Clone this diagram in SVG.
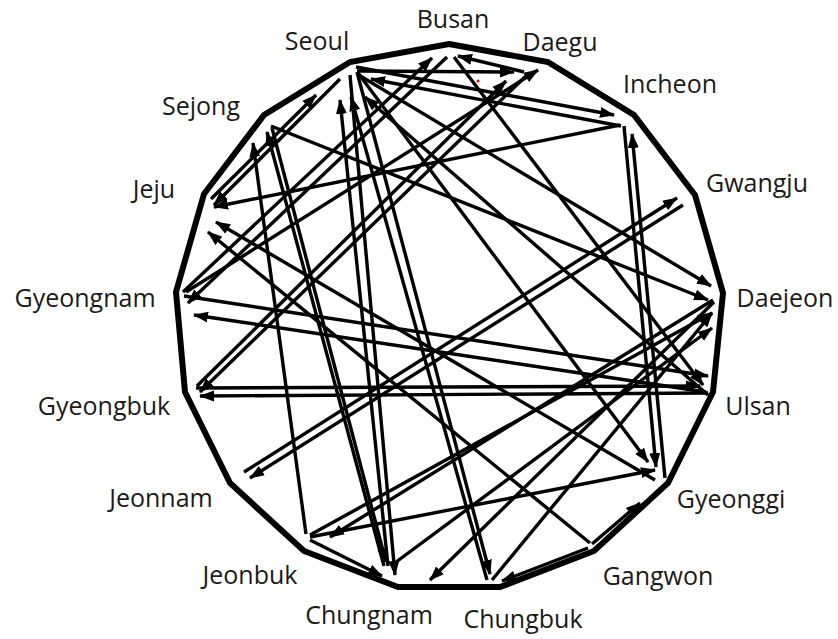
<svg xmlns="http://www.w3.org/2000/svg" width="838" height="639" viewBox="0 0 838 639">
<defs>
<marker id="ah" markerUnits="userSpaceOnUse" markerWidth="16" markerHeight="12" refX="14" refY="6" orient="auto">
<path d="M0,0.5 L15,6 L0,11.5 z" fill="#000"/>
</marker>
<style>
.lbl{font-family:"Open Sans","Noto Sans","Liberation Sans",sans-serif;font-size:25px;fill:#1a1a1a}
.e{stroke:#000;stroke-width:3.4;fill:none;marker-end:url(#ah)}
.frame{stroke:#000;stroke-width:6;fill:none;stroke-linejoin:miter}
</style>
</defs>
<rect width="838" height="639" fill="#fff"/>
<polygon class="frame" points="449,44 548,62 634,115 695,195 723,293 713,392 668,483 594,551 500,587 398,587 304,551 230,483 185,392 176,292 204,194 264,115 350,62"/>
<g id="labels">
<text class="lbl" x="453" y="28" text-anchor="middle">Busan</text>
<text class="lbl" x="560" y="51" text-anchor="middle">Daegu</text>
<text class="lbl" x="670" y="93" text-anchor="middle">Incheon</text>
<text class="lbl" x="757" y="192" text-anchor="middle">Gwangju</text>
<text class="lbl" x="785" y="307" text-anchor="middle">Daejeon</text>
<text class="lbl" x="758" y="415" text-anchor="middle">Ulsan</text>
<text class="lbl" x="731" y="508" text-anchor="middle">Gyeonggi</text>
<text class="lbl" x="658" y="585" text-anchor="middle">Gangwon</text>
<text class="lbl" x="523" y="628" text-anchor="middle">Chungbuk</text>
<text class="lbl" x="369" y="624" text-anchor="middle">Chungnam</text>
<text class="lbl" x="250" y="584" text-anchor="middle">Jeonbuk</text>
<text class="lbl" x="161" y="507" text-anchor="middle">Jeonnam</text>
<text class="lbl" x="104" y="415" text-anchor="middle">Gyeongbuk</text>
<text class="lbl" x="85" y="307" text-anchor="middle">Gyeongnam</text>
<text class="lbl" x="154" y="198" text-anchor="middle">Jeju</text>
<text class="lbl" x="201" y="115" text-anchor="middle">Sejong</text>
<text class="lbl" x="317" y="50" text-anchor="middle">Seoul</text>
</g>
<g id="edges">
<line class="e" x1="357" y1="71" x2="514" y2="72"/>
<line class="e" x1="356" y1="67" x2="614" y2="115"/>
<line class="e" x1="621" y1="126" x2="371" y2="79"/>
<line class="e" x1="620" y1="125" x2="214" y2="207"/>
<line class="e" x1="624" y1="126" x2="656" y2="467"/>
<line class="e" x1="665" y1="478" x2="632" y2="134"/>
<line class="e" x1="683" y1="205" x2="250" y2="478"/>
<line class="e" x1="244" y1="472" x2="677" y2="198"/>
<line class="e" x1="708" y1="393" x2="200" y2="396"/>
<line class="e" x1="196" y1="388" x2="700" y2="386"/>
<line class="e" x1="184" y1="296" x2="708" y2="376"/>
<line class="e" x1="706" y1="392" x2="194" y2="315"/>
<line class="e" x1="271" y1="126" x2="708" y2="300"/>
<line class="e" x1="357" y1="74" x2="711" y2="286"/>
<line class="e" x1="211" y1="199" x2="316" y2="95"/>
<line class="e" x1="340" y1="79" x2="214" y2="205"/>
<line class="e" x1="655" y1="480" x2="216" y2="222"/>
<line class="e" x1="590" y1="543" x2="208" y2="232"/>
<line class="e" x1="183" y1="292" x2="432" y2="58"/>
<line class="e" x1="447" y1="57" x2="188" y2="303"/>
<line class="e" x1="524" y1="72" x2="458" y2="56"/>
<line class="e" x1="197" y1="386" x2="506" y2="81"/>
<line class="e" x1="527" y1="75" x2="200" y2="392"/>
<line class="e" x1="186" y1="292" x2="538" y2="70"/>
<line class="e" x1="454" y1="57" x2="703" y2="385"/>
<line class="e" x1="350" y1="75" x2="395" y2="575"/>
<line class="e" x1="388" y1="566" x2="340" y2="100"/>
<line class="e" x1="357" y1="72" x2="490" y2="574"/>
<line class="e" x1="358" y1="73" x2="648" y2="462"/>
<line class="e" x1="487" y1="580" x2="351" y2="97"/>
<line class="e" x1="272" y1="128" x2="386" y2="562"/>
<line class="e" x1="384" y1="566" x2="267" y2="132"/>
<line class="e" x1="306" y1="534" x2="253" y2="143"/>
<line class="e" x1="592" y1="544" x2="640" y2="503"/>
<line class="e" x1="588" y1="548" x2="502" y2="581"/>
<line class="e" x1="310" y1="535" x2="712" y2="313"/>
<line class="e" x1="713" y1="300" x2="330" y2="537"/>
<line class="e" x1="392" y1="565" x2="712" y2="328"/>
<line class="e" x1="714" y1="302" x2="430" y2="580"/>
<line class="e" x1="310" y1="537" x2="655" y2="470"/>
<line class="e" x1="708" y1="395" x2="365" y2="97"/>
<line class="e" x1="310" y1="540" x2="382" y2="576"/>
<line class="e" x1="492" y1="580" x2="712" y2="313"/>
</g>
<circle cx="478" cy="81" r="1.5" fill="#e00"/>
</svg>
